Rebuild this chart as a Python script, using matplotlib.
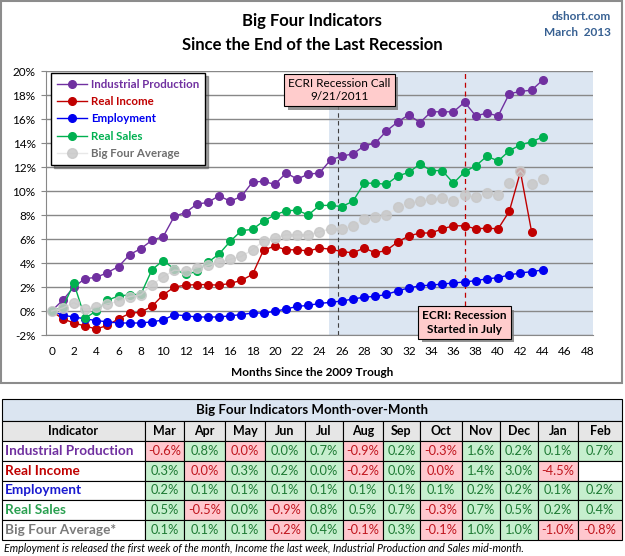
import numpy as np
import matplotlib
matplotlib.use('Agg')
import matplotlib.pyplot as plt
import matplotlib.patheffects as pe
from matplotlib.patches import Rectangle

plt.rcParams['font.family'] = ['Lato', 'DejaVu Sans']

# cumulative % change since the June 2009 trough
ip = [0, 0.9, 2.0, 2.7, 2.8, 3.2, 3.7, 4.7, 5.2, 5.9, 6.2, 7.9, 8.2, 8.9, 9.05, 9.6,
      9.15, 9.55, 10.75, 10.8, 10.55, 11.5, 11.0, 11.4, 11.5, 12.6, 12.9, 13.1, 13.75,
      14.0, 15.0, 15.75, 16.35, 15.7, 16.6, 16.6, 16.6, 17.4, 16.25, 16.5, 16.25, 18.1,
      18.3, 18.4, 19.25]
income = [0, -0.65, -1.0, -1.25, -1.5, -1.2, -0.65, -0.2, -0.1, 0.4, 1.35, 2.0, 2.15,
          2.2, 2.2, 2.15, 2.3, 2.55, 3.05, 5.1, 5.4, 5.1, 5.1, 5.0, 5.25, 5.15, 4.95,
          4.85, 5.25, 4.85, 5.05, 5.75, 6.25, 6.5, 6.5, 6.85, 7.1, 7.1, 6.85, 6.9, 6.85,
          8.3, 11.6, 6.6]
employment = [0, -0.35, -0.5, -0.65, -0.8, -0.9, -1.0, -1.0, -1.0, -0.9, -0.75, -0.3,
              -0.4, -0.5, -0.5, -0.5, -0.4, -0.3, -0.17, -0.17, -0.03, 0.17, 0.38, 0.47,
              0.63, 0.72, 0.83, 1.0, 1.15, 1.22, 1.38, 1.68, 1.92, 2.1, 2.15, 2.25, 2.33,
              2.42, 2.53, 2.68, 2.78, 3.0, 3.17, 3.28, 3.42]
sales = [0, 0.3, 2.3, -0.6, 0.0, 0.9, 1.25, 1.35, 1.4, 3.45, 4.2, 3.5, 3.05, 3.3, 4.05,
         4.75, 5.8, 6.7, 6.8, 7.5, 8.0, 8.35, 8.4, 8.0, 8.8, 8.8, 8.7, 9.15, 10.65,
         10.65, 10.55, 11.25, 11.55, 12.25, 11.7, 11.7, 10.65, 11.6, 12.1, 12.9, 12.5,
         13.35, 13.85, 14.1, 14.5]
average = [0, 0.25, 0.7, 0.15, 0.3, 0.6, 0.8, 1.2, 1.35, 2.2, 2.85, 3.4, 3.35, 3.6, 3.8,
           4.05, 4.3, 4.55, 5.1, 5.85, 6.1, 6.35, 6.35, 6.35, 6.6, 6.85, 6.85, 7.1, 7.7,
           7.8, 8.0, 8.65, 9.0, 9.15, 9.3, 9.4, 9.2, 9.65, 9.5, 9.8, 9.65, 10.7, 11.7,
           10.6, 11.0]

# month-over-month table (tiny signed values show as 0.0% but keep the cell colour)
months = ['Mar', 'Apr', 'May', 'Jun', 'Jul', 'Aug', 'Sep', 'Oct', 'Nov', 'Dec', 'Jan', 'Feb']
row_names = ['Industrial Production', 'Real Income', 'Employment', 'Real Sales',
             'Big Four Average*']
ip_mom = [-0.6, 0.8, -0.01, 0.0, 0.7, -0.9, 0.2, -0.3, 1.6, 0.2, 0.1, 0.7]
income_mom = [0.3, -0.01, 0.3, 0.2, 0.0, -0.2, 0.0, -0.01, 1.4, 3.0, -4.5, None]
emp_mom = [0.2, 0.1, 0.1, 0.1, 0.1, 0.1, 0.1, 0.1, 0.2, 0.2, 0.1, 0.2]
sales_mom = [0.5, -0.5, 0.0, -0.9, 0.8, 0.5, 0.7, -0.3, 0.7, 0.5, 0.2, 0.4]
avg_mom = [0.1, 0.1, 0.1, -0.2, 0.4, -0.1, 0.3, -0.1, 1.0, 1.0, -1.0, -0.8]

purple = '#7030A0'
red = '#C00000'
blue = '#0000F0'
green = '#00B050'
grey = '#C8C8C8'

W, H = 625, 556
fig = plt.figure(figsize=(6.25, 5.56), dpi=100)

bg = fig.add_axes([0, 0, 1, 1], zorder=0)
bg.set_xlim(0, W)
bg.set_ylim(H, 0)
bg.axis('off')
bg.add_patch(Rectangle((1, 1), 621, 382, fill=False, ec='#8c8c8c', lw=1.5))

bg.text(312, 21, 'Big Four Indicators', ha='center', va='center', fontsize=12, fontweight='bold')
bg.text(312, 45, 'Since the End of the Last Recession', ha='center', va='center',
        fontsize=12, fontweight='bold')
bg.text(611, 16, 'dshort.com', ha='right', va='center', fontsize=8.5, fontweight='bold',
        color='#376092')
bg.text(611, 33, 'March  2013', ha='right', va='center', fontsize=8.5, fontweight='bold',
        color='#376092')
bg.text(312, 373, 'Months Since the 2009 Trough', ha='center', va='center', fontsize=8.5,
        fontweight='bold')

ax = fig.add_axes([46 / W, 1 - 335 / H, 547 / W, 264 / H], zorder=1)
ax.set_xlim(-0.5, 48.5)
ax.set_ylim(-2, 20)
ax.axvspan(24.85, 48.5, color='#DCE6F2', zorder=0, lw=0)
ax.set_axisbelow(True)
ax.yaxis.grid(True, color='#888888', lw=1)
ax.set_yticks(range(-2, 21, 2))
ax.set_yticklabels([f'{v}%' for v in range(-2, 21, 2)])
ax.set_xticks(range(0, 49, 2))
ax.tick_params(axis='x', length=0, pad=8, labelsize=8.5)
ax.tick_params(axis='y', length=3.5, pad=4, labelsize=8.5, color='#888888')
for s in ['top', 'right']:
    ax.spines[s].set_visible(False)
ax.spines['left'].set_color('#888888')
ax.spines['bottom'].set_color('#888888')

ax.plot(range(len(ip)), ip, '-o', color=purple, lw=1, ms=5.5, label='Industrial Production', zorder=3)
ax.plot(range(len(income)), income, '-o', color=red, lw=1, ms=5.5, label='Real Income', zorder=3)
ax.plot(range(len(employment)), employment, '-o', color=blue, lw=1, ms=5.5, label='Employment', zorder=3)
ax.plot(range(len(sales)), sales, '-o', color=green, lw=1, ms=5.5, label='Real Sales', zorder=3)
ax.plot(range(len(average)), average, '-o', color='#E4E4E4', mfc=grey, mec=grey, lw=1, ms=7,
        alpha=0.85, label='Big Four Average', zorder=4)

ax.vlines(25.7, -2, 17.1, colors='#404040', linestyles=(0, (4, 3)), lw=0.8, zorder=2)
ax.vlines(37, 0.4, 20, colors=red, linestyles=(0, (4, 3)), lw=0.9, zorder=2)

boxes = [(25.8, 18.4, 'ECRI Recession Call\n9/21/2011', 'normal'),
         (37.0, -0.95, 'ECRI: Recession\nStarted in July', 'bold')]
for bx, by, txt, wt in boxes:
    t = ax.text(bx, by, txt, ha='center', va='center', fontsize=8.5, fontweight=wt,
                linespacing=1.25, zorder=6,
                bbox=dict(boxstyle='square,pad=0.35', fc='#FFCCCC', ec='black', lw=0.8))
    t.get_bbox_patch().set_path_effects([
        pe.SimplePatchShadow(offset=(2.5, -2.5), shadow_rgbFace='#7a7a7a', alpha=0.8),
        pe.Normal()])

leg = ax.legend(loc='upper left', bbox_to_anchor=(51 / W, 1 - 73 / H),
                bbox_transform=fig.transFigure, frameon=True, fancybox=False, shadow=True,
                prop={'weight': 'bold', 'size': 8.3}, borderaxespad=0, borderpad=0.5,
                labelspacing=0.55, handlelength=2.6, handletextpad=0.4)
leg.get_frame().set_edgecolor('black')
leg.get_frame().set_linewidth(1)
for t, c in zip(leg.get_texts(), [purple, red, blue, green, '#6E6E6E']):
    t.set_color(c)

# table
col_edges = [2, 145, 184, 225, 265, 305, 343, 383, 420, 462, 500, 538, 578, 622]
row_edges = [399, 421, 441, 461, 481, 500, 520, 540]
bg.add_patch(Rectangle((col_edges[0], row_edges[0]), col_edges[-1] - col_edges[0],
                       row_edges[1] - row_edges[0], fc='#DBE5F1', ec='black', lw=0.8))
bg.text(312, (row_edges[0] + row_edges[1]) / 2, 'Big Four Indicators Month-over-Month',
        ha='center', va='center', fontsize=9.5, fontweight='bold')

headers = ['Indicator'] + months
for j, h in enumerate(headers):
    x0, x1 = col_edges[j], col_edges[j + 1]
    bg.add_patch(Rectangle((x0, row_edges[1]), x1 - x0, row_edges[2] - row_edges[1],
                           fc='#E6E6E6', ec='black', lw=0.8))
    bg.text((x0 + x1) / 2, (row_edges[1] + row_edges[2]) / 2, h, ha='center', va='center',
            fontsize=9, fontweight='bold')

rows = [ip_mom, income_mom, emp_mom, sales_mom, avg_mom]
name_colors = [purple, red, '#1a1ad0', '#2aa050', '#7a7a7a']
for i, (name, vals) in enumerate(zip(row_names, rows)):
    y0, y1 = row_edges[i + 2], row_edges[i + 3]
    yc = (y0 + y1) / 2
    bg.add_patch(Rectangle((col_edges[0], y0), col_edges[1] - col_edges[0], y1 - y0,
                           fc='white', ec='black', lw=0.8))
    bg.text(col_edges[0] + 3, yc, name, ha='left', va='center', fontsize=9.8,
            fontweight='bold', color=name_colors[i])
    for j, v in enumerate(vals):
        x0, x1 = col_edges[j + 1], col_edges[j + 2]
        if v is None:
            bg.add_patch(Rectangle((x0, y0), x1 - x0, y1 - y0, fc='white', ec='black', lw=0.8))
            continue
        neg = v < 0
        bg.add_patch(Rectangle((x0, y0), x1 - x0, y1 - y0, fc='#FFC7CE' if neg else '#C6EFCE',
                               ec='black', lw=0.8))
        label = '0.0%' if round(v, 1) == 0 else f'{v:.1f}%'
        bg.text((x0 + x1) / 2, yc, label, ha='center', va='center', fontsize=9.3,
                color='#C0161E' if neg else '#1E7A34')

bg.text(4, 549, 'Employment is released the first week of the month, Income the last week, '
        'Industrial Production and Sales mid-month.', ha='left', va='center', fontsize=7.7,
        style='italic')

fig.savefig('out.png', dpi=100)
